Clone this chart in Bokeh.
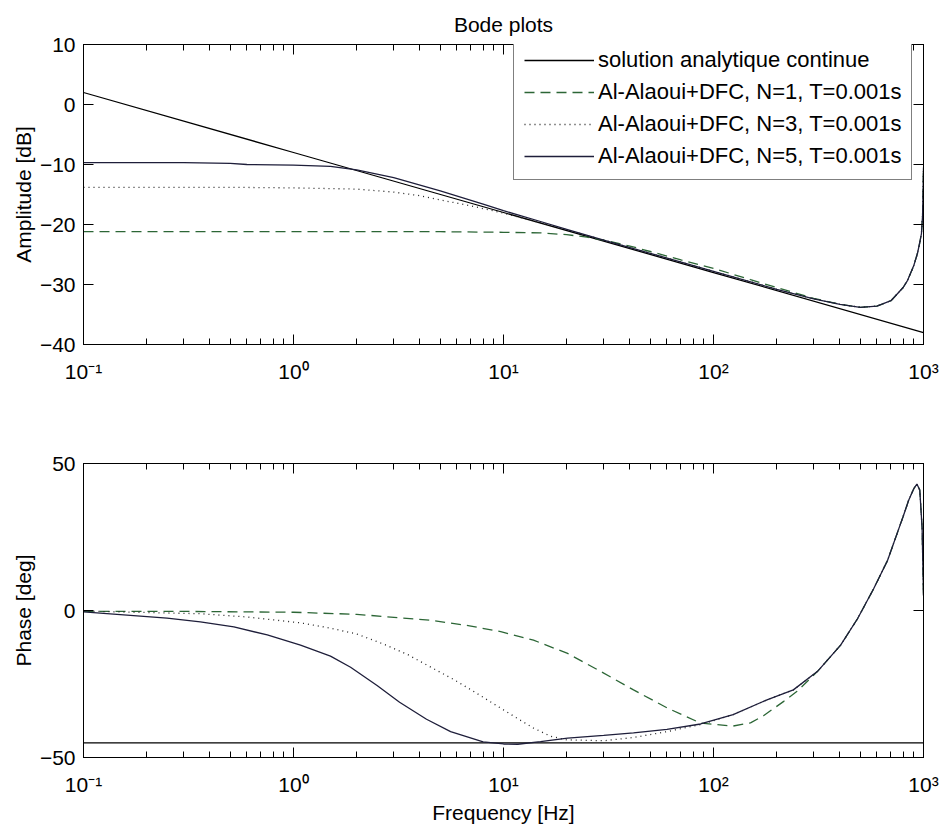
from bokeh.plotting import figure
from bokeh.layouts import column
from bokeh.models import (Range1d, FixedTicker, LinearAxis, LogAxis, LogTicker,
                          CustomJSTickFormatter, Legend, LegendItem)
from bokeh.embed import file_html
from bokeh.resources import INLINE

FONT = "Liberation Sans"

# ---------------- data ----------------
labels = ["solution analytique continue",
          "Al-Alaoui+DFC, N=1, T=0.001s",
          "Al-Alaoui+DFC, N=3, T=0.001s",
          "Al-Alaoui+DFC, N=5, T=0.001s"]

amp_ticks = [-40, -30, -20, -10, 0, 10]
phase_ticks = [-50, 0, 50]

# Amplitude [dB]
amp_f_analytic = [0.1, 1, 10, 100, 1000]
amp_analytic = [2, -8, -18, -28, -38]

amp_f_tail = [500, 600, 700, 800, 840, 900, 936, 960, 978, 990, 1000]
amp_tail = [-33.8, -33.6, -32.7, -30.5, -29.3, -26.8, -24.8, -23.0, -21.5, -18.5, -10.5]

amp_f_n1 = [0.1, 1, 5, 10, 15, 20, 25, 30, 40, 50, 70, 100, 150, 200, 300, 400]
amp_n1 = [-21.2, -21.2, -21.2, -21.3, -21.4, -21.7, -22.1, -22.6, -23.6, -24.5,
          -25.9, -27.3, -29.2, -30.5, -32.3, -33.3]

amp_f_n3 = [0.1, 0.5, 1.0, 2.0, 3.0, 4.0, 5.0, 7.0, 10, 15, 20, 30, 50, 100, 200, 300, 400]
amp_n3 = [-13.8, -13.8, -13.9, -14.1, -14.6, -15.2, -15.9, -16.9, -18.1, -19.7,
          -20.9, -22.6, -24.8, -27.8, -30.8, -32.4, -33.3]

amp_f_n5 = [0.1, 0.3, 0.5, 0.6, 1.0, 1.5, 2.0, 3.0, 5.0, 8.0, 10, 15, 20, 30, 50,
            100, 200, 300, 400]
amp_n5 = [-9.7, -9.7, -9.8, -10.0, -10.1, -10.3, -10.9, -12.2, -14.4, -16.6, -17.7,
          -19.5, -20.8, -22.6, -24.8, -27.8, -30.8, -32.4, -33.3]

# Phase [deg]
ph_f_analytic = [0.1, 1000]
ph_analytic = [-45, -45]

ph_f_tail = [313, 403, 485, 578, 674, 760, 800, 850, 900, 930, 960, 985, 1000]
ph_tail = [-20.7, -11.8, -2.8, 7.3, 17.0, 27.5, 32.0, 37.5, 41.5, 43.0, 41.0, 28.0, 5.0]

ph_f_n1 = [0.1, 0.3, 1.0, 2.0, 4.6, 7.0, 9.7, 13.9, 20.2, 29, 41.6, 60.4, 86.8,
           124, 150, 173, 216, 250]
ph_n1 = [-0.3, -0.3, -0.6, -1.3, -3.4, -5.3, -7.2, -10.1, -14.6, -20.7, -27.0,
         -33.2, -38.3, -39.3, -38.2, -35.8, -30.9, -27.5]

ph_f_n3 = [0.1, 0.36, 0.6, 1.08, 1.5, 2.0, 2.7, 3.5, 4.3, 5.8, 7.2, 9.0, 11.7,
           13.9, 16.8, 20, 30, 41.6, 60, 86.8, 124, 181, 240]
ph_n3 = [-0.2, -1.1, -2.2, -4.2, -6.0, -8.0, -11.5, -15.0, -18.5, -23.5, -27.5,
         -31.8, -36.8, -40.0, -42.8, -44.0, -44.3, -43.2, -41.2, -38.8, -35.4, -30.3, -27.0]

ph_f_n5 = [0.1, 0.25, 0.36, 0.52, 0.75, 1.08, 1.5, 1.87, 2.5, 3.2, 4.3, 5.6, 8.0,
           10, 11.7, 15, 20.2, 30, 41.6, 60, 86.8, 124, 181, 240]
ph_n5 = [-0.5, -2.6, -3.9, -5.6, -8.3, -11.8, -15.5, -19.3, -25.5, -31.2, -37.0,
         -41.2, -44.7, -45.4, -45.5, -44.6, -43.4, -42.5, -41.6, -40.4, -38.6,
         -35.4, -30.3, -27.0]

# ---------------- styles ----------------
C_ANALYTIC = "#000000"
C_N1 = "#2c6636"
C_N3 = "#222222"
C_N5 = "#1e1e3a"
LW = 1.3

SUP_CODE = """
const m = {"-":"\\u207b","0":"\\u2070","1":"\\u00b9","2":"\\u00b2","3":"\\u00b3",
           "4":"\\u2074","5":"\\u2075","6":"\\u2076","7":"\\u2077","8":"\\u2078","9":"\\u2079"};
const e = Math.round(Math.log10(tick));
return "10" + String(e).split("").map(c => m[c]).join("");
"""


def style_axis(ax):
    ax.axis_line_color = "black"
    ax.axis_line_width = 1
    ax.major_tick_in = 10
    ax.major_tick_out = 0
    ax.minor_tick_in = 6
    ax.minor_tick_out = 0
    ax.major_tick_line_color = "black"
    ax.minor_tick_line_color = "black"
    ax.major_label_text_font = FONT
    ax.major_label_text_color = "black"
    ax.major_label_text_font_size = "21px"
    ax.axis_label_text_font = FONT
    ax.axis_label_text_font_size = "21px"
    ax.axis_label_text_font_style = "normal"
    ax.axis_label_text_color = "black"


def hide_labels(ax):
    ax.major_label_text_font_size = "1px"
    ax.major_label_text_alpha = 0
    ax.major_label_standoff = 0


def make_fig(height, top, bottom, yrange, yticks, ylabel, title=None):
    p = figure(width=941, height=height, x_axis_type="log",
               x_range=Range1d(0.1, 1000), y_range=Range1d(*yrange),
               output_backend="svg", toolbar_location=None,
               min_border_left=83, min_border_right=18,
               min_border_top=top, min_border_bottom=bottom,
               title=title)
    p.grid.visible = False
    p.outline_line_color = "black"
    p.background_fill_color = "white"
    p.border_fill_color = "white"
    xa = p.xaxis[0]
    ya = p.yaxis[0]
    xa.ticker = LogTicker(num_minor_ticks=10)
    xa.formatter = CustomJSTickFormatter(code=SUP_CODE)
    style_axis(xa)
    xa.major_label_standoff = 15
    ya.ticker = FixedTicker(ticks=yticks)
    style_axis(ya)
    ya.axis_label = ylabel
    ya.major_label_standoff = 8
    ya.axis_label_standoff = 2
    top_ax = LogAxis(ticker=LogTicker(num_minor_ticks=10))
    style_axis(top_ax)
    hide_labels(top_ax)
    p.add_layout(top_ax, "above")
    right_ax = LinearAxis(ticker=FixedTicker(ticks=yticks))
    style_axis(right_ax)
    hide_labels(right_ax)
    p.add_layout(right_ax, "right")
    return p, xa, ya


# ---------------- amplitude plot ----------------
p1, xa1, ya1 = make_fig(420, 44, 76, (-40, 10), amp_ticks, "Amplitude [dB]",
                        title="Bode plots")
p1.title.align = "center"
p1.title.text_font = FONT
p1.title.text_font_size = "21px"
p1.title.text_font_style = "normal"
p1.title.text_color = "black"
p1.title.standoff = 18

r0 = p1.line(amp_f_analytic, amp_analytic, line_color=C_ANALYTIC, line_width=LW)
r1 = p1.line(amp_f_n1 + amp_f_tail, amp_n1 + amp_tail, line_color=C_N1,
             line_width=LW, line_dash="10 6")
r2 = p1.line(amp_f_n3 + amp_f_tail, amp_n3 + amp_tail, line_color=C_N3,
             line_width=LW, line_dash="1 4")
r3 = p1.line(amp_f_n5 + amp_f_tail, amp_n5 + amp_tail, line_color=C_N5, line_width=LW)

legend = Legend(items=[LegendItem(label=labels[0], renderers=[r0]),
                       LegendItem(label=labels[1], renderers=[r1]),
                       LegendItem(label=labels[2], renderers=[r2]),
                       LegendItem(label=labels[3], renderers=[r3])],
                location=(430, 164))
legend.label_text_font = FONT
legend.label_text_font_size = "22px"
legend.label_text_color = "black"
legend.glyph_width = 70
legend.glyph_height = 24
legend.label_height = 24
legend.spacing = 6
legend.padding = 10
legend.label_standoff = 4
legend.margin = 0
legend.border_line_color = "black"
legend.border_line_width = 1
legend.background_fill_color = "white"
legend.background_fill_alpha = 1
p1.add_layout(legend)

# ---------------- phase plot ----------------
p2, xa2, ya2 = make_fig(406, 43, 66, (-50, 50), phase_ticks, "Phase [deg]")
xa2.axis_label = "Frequency [Hz]"
xa2.axis_label_standoff = 2
xa2.major_label_standoff = 15

p2.line(ph_f_analytic, ph_analytic, line_color=C_ANALYTIC, line_width=LW)
p2.line(ph_f_n1 + ph_f_tail, ph_n1 + ph_tail, line_color=C_N1, line_width=LW, line_dash="10 6")
p2.line(ph_f_n3 + ph_f_tail, ph_n3 + ph_tail, line_color=C_N3, line_width=LW, line_dash="1 4")
p2.line(ph_f_n5 + ph_f_tail, ph_n5 + ph_tail, line_color=C_N5, line_width=LW)

layout = column(p1, p2, spacing=0)
open("out.html", "w").write(file_html(layout, INLINE))
